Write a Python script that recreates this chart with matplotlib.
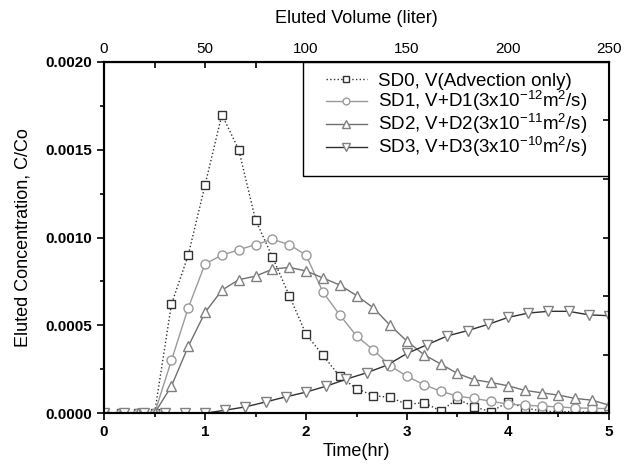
import matplotlib
matplotlib.use("Agg")
import matplotlib.pyplot as plt
import numpy as np
from matplotlib.patches import Rectangle
from matplotlib.ticker import FormatStrFormatter, MultipleLocator

plt.rcParams['font.family'] = ['Liberation Sans', 'DejaVu Sans']
plt.rcParams['mathtext.fontset'] = 'custom'
plt.rcParams['mathtext.rm'] = 'Liberation Sans'
plt.rcParams['mathtext.default'] = 'regular'

# time grid (hr) for SD0, SD1, SD2: step 1/6 hr
t_a = [0, 1/6, 2/6, 3/6, 4/6, 5/6, 1, 7/6, 8/6, 9/6, 10/6, 11/6, 2, 13/6, 14/6, 15/6,
       16/6, 17/6, 3, 19/6, 20/6, 21/6, 22/6, 23/6, 4, 25/6, 26/6, 27/6, 28/6, 29/6, 5]
sd0 = [0, 0, 0, 0, 0.00062, 0.0009, 0.0013, 0.0017, 0.0015, 0.0011, 0.00089, 0.00067,
       0.00045, 0.00033, 0.00021, 0.00014, 0.0001, 0.00009, 0.00005, 0.00006, 0.000013,
       0.00008, 0.000036, 0.000008, 0.000064, 0.00003, 0.000013, 0.000007, 0.00001,
       0.000005, 0.000003]
sd1 = [0, 0, 0, 0, 0.0003, 0.0006, 0.00085, 0.0009, 0.00093, 0.00096, 0.00099, 0.00096,
       0.0009, 0.00069, 0.00056, 0.00044, 0.00036, 0.00027, 0.00021, 0.000163, 0.000125,
       0.000097, 0.000084, 0.000068, 0.000051, 0.000046, 0.00004, 0.000036, 0.00003,
       0.000028, 0.000026]
sd2 = [0, 0, 0, 0, 0.000154, 0.00038, 0.000574, 0.0007, 0.00076, 0.00078, 0.00082, 0.00083,
       0.00081, 0.00077, 0.00073, 0.00067, 0.0006, 0.0005, 0.00041, 0.000334, 0.00028,
       0.000226, 0.00019, 0.000175, 0.000156, 0.00013, 0.000116, 0.000103, 0.000084,
       0.000074, 0.000046]

# SD3 sampled every 0.2 hr
t_b = [0, 0.2, 0.4, 0.6, 0.8, 1.0, 1.2, 1.4, 1.6, 1.8, 2.0, 2.2, 2.4, 2.6, 2.8, 3.0,
       3.2, 3.4, 3.6, 3.8, 4.0, 4.2, 4.4, 4.6, 4.8, 5.0]
sd3 = [0, 0, 0, 0, 0, 0, 0.000017, 0.000036, 0.000064, 0.000093, 0.00012, 0.000154,
       0.000194, 0.00023, 0.000273, 0.00034, 0.00039, 0.00044, 0.00047, 0.000505,
       0.000545, 0.00057, 0.00058, 0.00058, 0.00056, 0.000555]

vol_ticks = [0, 50, 100, 150, 200, 250]
vol_minor = [25, 75, 125, 175, 225]

labels = ["SD0, V(Advection only)",
          r"SD1, V+D1(3x10$^{-12}$m$^{2}$/s)",
          r"SD2, V+D2(3x10$^{-11}$m$^{2}$/s)",
          r"SD3, V+D3(3x10$^{-10}$m$^{2}$/s)"]

fig = plt.figure(figsize=(6.31, 4.69), dpi=100)
ax = fig.add_axes([0.165, 0.119, 0.8, 0.749])

ax.plot(t_a, sd0, ls=':', color='#333333', lw=1, marker='s', ms=6,
        mfc='white', mec='#333333', mew=1, label=labels[0])
ax.plot(t_a, sd1, ls='-', color='#9a9a9a', lw=1, marker='o', ms=6.5,
        mfc='white', mec='#9a9a9a', mew=1, label=labels[1])
ax.plot(t_a, sd2, ls='-', color='#707070', lw=1, marker='^', ms=7,
        mfc='white', mec='#808080', mew=1, label=labels[2])
ax.plot(t_b, sd3, ls='-', color='#303030', lw=1, marker='v', ms=7,
        mfc='white', mec='#808080', mew=1, label=labels[3])

ax.set_xlim(0, 5)
ax.set_ylim(0, 0.002)
ax.xaxis.set_major_locator(MultipleLocator(1))
ax.xaxis.set_minor_locator(MultipleLocator(0.5))
ax.yaxis.set_major_locator(MultipleLocator(0.0005))
ax.yaxis.set_minor_locator(MultipleLocator(0.00025))
ax.yaxis.set_major_formatter(FormatStrFormatter('%.4f'))
ax.tick_params(which='both', direction='out', width=1.2, top=False, right=False)
ax.tick_params(which='major', length=5, labelsize=11)
ax.tick_params(which='minor', length=3)
for lab in ax.get_xticklabels() + ax.get_yticklabels():
    lab.set_fontweight('bold')
for s in ax.spines.values():
    s.set_linewidth(1.5)

ax.set_xlabel("Time(hr)", fontsize=13, labelpad=3)
ax.set_ylabel("Eluted Concentration, C/Co", fontsize=13, labelpad=10)

# top axis: eluted volume (50 liter per hour)
top = ax.secondary_xaxis('top', functions=(lambda x: x * 50, lambda v: v / 50))
top.set_xticks(vol_ticks)
top.set_xticks(vol_minor, minor=True)
top.tick_params(which='both', direction='in', length=4, width=1.2, labelsize=11, pad=4)
top.set_xlabel("Eluted Volume (liter)", fontsize=13, labelpad=14)

# right axis ticks only
right = ax.twinx()
right.set_ylim(0, 0.002)
right.set_yticks(np.linspace(0, 0.002, 7))
right.tick_params(direction='in', length=4, width=1.2, labelright=False)
for s in right.spines.values():
    s.set_linewidth(1.5)

# legend box drawn by hand (the frame has extra room at right and bottom)
box = Rectangle((0.394, 0.675), 0.606, 0.325, transform=ax.transAxes,
                facecolor='white', edgecolor='black', lw=1, zorder=4)
ax.add_patch(box)
leg = ax.legend(loc='upper left', bbox_to_anchor=(0.428, 0.985), fontsize=13.5,
                frameon=False, handlelength=2.2, handletextpad=0.6, markerscale=0.75,
                labelspacing=-0.05, borderpad=0.3, borderaxespad=0)
leg.set_zorder(5)

fig.savefig("out.png", dpi=100)
